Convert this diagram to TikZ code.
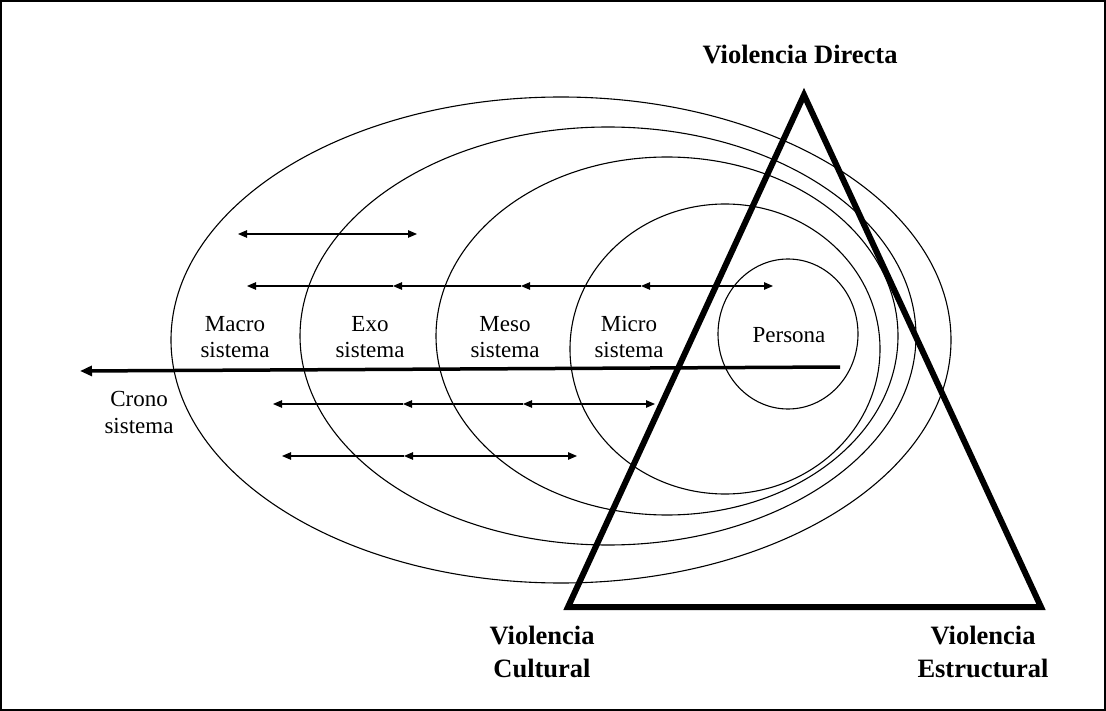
\documentclass[tikz,border=0pt]{standalone}
\usepackage{fontspec}
\setmainfont{Liberation Serif}
\usetikzlibrary{arrows.meta}
\begin{document}
\begin{tikzpicture}[x=1pt,y=-1pt,
  ring/.style={line width=1.1pt},
  lefthead/.style={line width=1.1pt,-{Triangle[length=9pt,width=7.5pt]}},
  bothhead/.style={line width=1.1pt,{Triangle[length=9pt,width=7.5pt]}-{Triangle[length=9pt,width=7.5pt]}},
  cronoline/.style={line width=3.5pt,-{Triangle[length=12pt,width=10pt]}},
  tri/.style={line width=6pt,line join=miter},
  lab/.style={font=\fontsize{23}{27}\selectfont,align=center,inner sep=0pt,anchor=base},
  vlab/.style={font=\bfseries\fontsize{26.5}{33}\selectfont,align=center,inner sep=0pt,anchor=base}]
\useasboundingbox (0,0) rectangle (1106,711);
\draw[line width=1.5pt] (1,1) rectangle (1105,710);
% nested systems
\draw[ring] (561,340) ellipse [x radius=390pt, y radius=243pt];
\draw[ring] (608,336) ellipse [x radius=308pt, y radius=209pt];
\draw[ring] (667,336) ellipse [x radius=231pt, y radius=179pt];
\draw[ring] (725,349) ellipse [x radius=155pt, y radius=145pt];
\draw[ring] (788,334) ellipse [x radius=70pt, y radius=75pt];
% arrow rows
\coordinate (a1) at (238,234); \coordinate (a2) at (417,234);
\draw[bothhead] (a1) -- (a2);
\coordinate (b1) at (247,286); \coordinate (b2) at (393,286); \coordinate (b3) at (521,286);
\coordinate (b4) at (641,286); \coordinate (b5) at (773,286);
\draw[lefthead] (b2) -- (b1);
\draw[lefthead] (b3) -- (b2);
\draw[lefthead] (b4) -- (b3);
\draw[bothhead] (b4) -- (b5);
\coordinate (c1) at (273,404); \coordinate (c2) at (403,404); \coordinate (c3) at (523,404);
\coordinate (c4) at (655,404);
\draw[lefthead] (c2) -- (c1);
\draw[lefthead] (c3) -- (c2);
\draw[bothhead] (c3) -- (c4);
\coordinate (d1) at (282,456); \coordinate (d2) at (404,456); \coordinate (d3) at (577,456);
\draw[lefthead] (d2) -- (d1);
\draw[bothhead] (d2) -- (d3);
% crono axis
\coordinate (cs) at (840,367); \coordinate (ce) at (80,371);
\draw[cronoline] (cs) -- (ce);
% triangle
\coordinate (apex) at (804,95); \coordinate (cult) at (568,607); \coordinate (estr) at (1041,607);
\draw[tri] (apex) -- (cult) -- (estr) -- cycle;
% labels (anchor = baseline of last line)
\node[lab] (macro) at (235,358) {Macro\\sistema};
\node[lab] (exo) at (370,358) {Exo\\sistema};
\node[lab] (meso) at (505,358) {Meso\\sistema};
\node[lab] (micro) at (629,358) {Micro\\sistema};
\node[lab] (persona) at (789,342) {Persona};
\node[lab] (crono) at (139,433) {Crono\\sistema};
\node[vlab] (vd) at (800,64) {Violencia Directa};
\node[vlab] (vc) at (542,677) {Violencia\\Cultural};
\node[vlab] (ve) at (983,677) {Violencia\\Estructural};
\end{tikzpicture}
\end{document}
